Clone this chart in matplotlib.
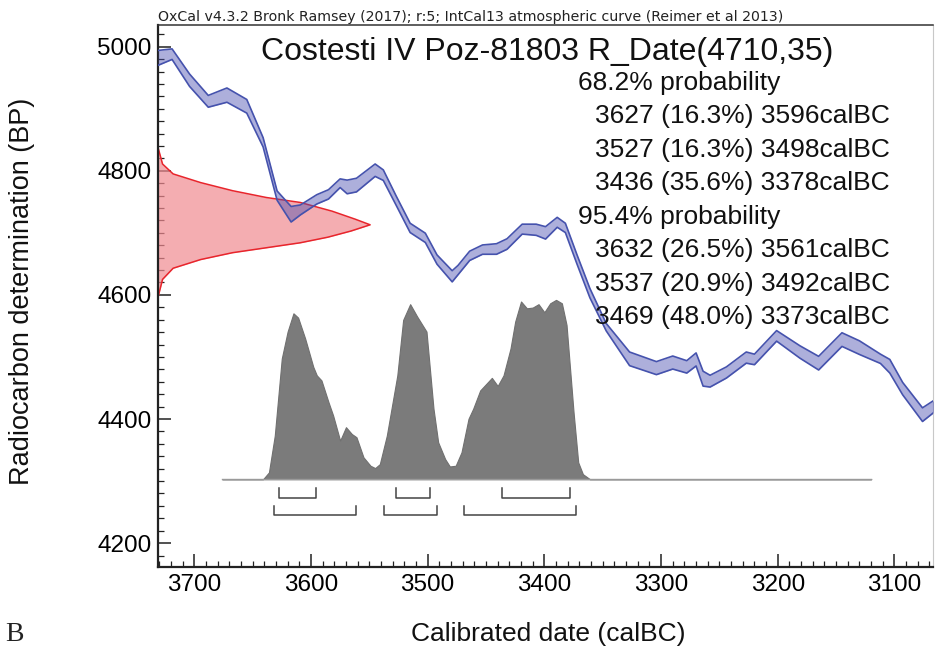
import matplotlib
matplotlib.use("Agg")
import matplotlib.pyplot as plt
from matplotlib.ticker import MultipleLocator

plt.rcParams['font.family'] = ['Liberation Sans', 'DejaVu Sans']

# IntCal13 curve (cal BC, BP, 1 sigma)
curve_cal_bc = [3731, 3719, 3704, 3688, 3672, 3655, 3641, 3629, 3617, 3609,
                3595, 3585, 3575, 3569, 3561, 3545, 3538, 3527, 3515, 3502,
                3492, 3479, 3474, 3464, 3453, 3441, 3432, 3419, 3407, 3399,
                3389, 3382, 3372, 3361, 3347, 3327, 3304, 3290, 3278, 3270,
                3264, 3258, 3244, 3227, 3220, 3201, 3181, 3165, 3145, 3130,
                3112, 3104, 3093, 3076, 3065]
curve_bp = [4982, 4988, 4946, 4912, 4922, 4904, 4846, 4760, 4730, 4737,
            4754, 4762, 4780, 4774, 4777, 4801, 4793, 4752, 4708, 4692,
            4657, 4630, 4640, 4663, 4673, 4674, 4682, 4706, 4705, 4700,
            4717, 4708, 4657, 4603, 4548, 4497, 4482, 4491, 4484, 4496,
            4465, 4461, 4475, 4499, 4496, 4534, 4508, 4490, 4528, 4515,
            4497, 4485, 4449, 4407, 4422]
curve_sigma = [12, 8.5, 10, 9.5, 11.5, 11, 7.5, 7.5, 12.5, 8,
               7.5, 7.5, 7, 11, 11, 10, 8.5, 7.5, 7.5, 7.5,
               7.5, 9, 7.5, 7.5, 7.5, 8.5, 8.5, 8, 9, 10,
               8, 7.5, 7.5, 7.5, 6, 11, 10.5, 10.5, 10, 10.5,
               12, 9.5, 9, 9, 8.5, 8.5, 10, 11, 11, 11,
               7.5, 11, 10, 11, 9.5]

# radiocarbon date R_Date(4710,35), profile
rdate_bp = [4836, 4811, 4795, 4781, 4768, 4757, 4749, 4735, 4722, 4713,
            4703, 4693, 4684, 4676, 4668, 4657, 4643, 4625, 4598]
rdate_density = [0.0, 0.02, 0.07, 0.20, 0.35, 0.51, 0.67, 0.82, 0.93, 1.0,
                 0.91, 0.80, 0.67, 0.51, 0.35, 0.20, 0.07, 0.02, 0.0]

# calibrated probability distribution
post_cal_bc = [3676, 3641, 3636, 3631, 3625, 3620, 3615, 3611, 3605, 3598,
               3595, 3591, 3585, 3581, 3575, 3570, 3565, 3561, 3555, 3549,
               3545, 3541, 3535, 3526, 3521, 3515, 3509, 3501, 3495, 3491,
               3485, 3481, 3476, 3471, 3465, 3461, 3455, 3445, 3440, 3435,
               3429, 3425, 3420, 3415, 3410, 3405, 3400, 3395, 3390, 3385,
               3381, 3375, 3371, 3367, 3361, 3120]
post_density = [0.0, 0.0, 0.038, 0.243, 0.673, 0.823, 0.925, 0.901, 0.785, 0.626,
                0.579, 0.551, 0.430, 0.355, 0.215, 0.290, 0.252, 0.234, 0.122, 0.075,
                0.062, 0.084, 0.243, 0.579, 0.888, 0.976, 0.907, 0.823, 0.393, 0.206,
                0.112, 0.071, 0.075, 0.150, 0.337, 0.393, 0.495, 0.565, 0.520, 0.579,
                0.729, 0.879, 0.991, 0.953, 0.957, 0.976, 0.931, 0.981, 1.0, 0.981,
                0.860, 0.374, 0.094, 0.028, 0.0, 0.0]

ranges_68 = [(3627, 3596), (3527, 3498), (3436, 3378)]
pcts_68 = [16.3, 16.3, 35.6]
ranges_95 = [(3632, 3561), (3537, 3492), (3469, 3373)]
pcts_95 = [26.5, 20.9, 48.0]

W, H = 935, 648
fig = plt.figure(figsize=(W / 100, H / 100), dpi=100)
ax = fig.add_axes([158.3 / W, 80.7 / H, (933 - 158.3) / W, (567.3 - 25) / H])

x_left, x_right = 3730.8, 3067
ax.set_xlim(x_left, x_right)
ax.set_ylim(4161, 5035)

# calibration curve band
lo = [b - s for b, s in zip(curve_bp, curve_sigma)]
hi = [b + s for b, s in zip(curve_bp, curve_sigma)]
ax.fill_between(curve_cal_bc, lo, hi, color='#4a4fb0', alpha=0.45, lw=0, zorder=3)
ax.plot(curve_cal_bc, lo, color='#4552ad', lw=1.2, zorder=4)
ax.plot(curve_cal_bc, hi, color='#4552ad', lw=1.2, zorder=4)

# radiocarbon date on the y axis
rdate_x = [x_left - d * 181.5 for d in rdate_density]
ax.fill_betweenx(rdate_bp, x_left, rdate_x, color='#f08a90', alpha=0.7, lw=0, zorder=2)
ax.plot(rdate_x, rdate_bp, color='#e8252c', lw=1.1, zorder=2.5)

# calibrated distribution
base = 4303
post_y = [base + d * 289 for d in post_density]
ax.fill_between(post_cal_bc, base, post_y, color='#7b7b7b', lw=0.8, edgecolor='#707070', zorder=1)
ax.plot([post_cal_bc[0], post_cal_bc[-1]], [base, base], color='#9a9a9a', lw=1.0, zorder=1)

# range brackets
for rng, y0, y1 in [(ranges_68, 4273, 4288), (ranges_95, 4246, 4260)]:
    for a, b in rng:
        ax.plot([a, a, b, b], [y1, y0, y0, y1], color='#444444', lw=1.1, zorder=1)

# axes styling
ax.xaxis.set_major_locator(MultipleLocator(100))
ax.xaxis.set_minor_locator(MultipleLocator(10))
ax.yaxis.set_major_locator(MultipleLocator(200))
ax.yaxis.set_minor_locator(MultipleLocator(20))
ax.tick_params(which='major', direction='in', length=9.5, width=1.1, color='#222222',
               labelsize=17.5, pad=5, top=False, right=False)
ax.tick_params(which='minor', direction='in', length=4.5, width=0.9, color='#222222',
               top=False, right=False)
for side in ['left', 'bottom']:
    ax.spines[side].set_linewidth(1.6)
    ax.spines[side].set_color('#222222')
ax.spines['top'].set_linewidth(1.1)
ax.spines['top'].set_color('#333333')
ax.spines['right'].set_linewidth(0.8)
ax.spines['right'].set_color('#c8c8c8')


def fx(px):
    return px / W


def fy(py):
    return 1 - py / H


fig.text(fx(158), fy(21.5), 'OxCal v4.3.2 Bronk Ramsey (2017); r:5; IntCal13 atmospheric curve (Reimer et al 2013)',
         fontsize=10.2, family='DejaVu Sans', ha='left', va='baseline', color='#222222')
fig.text(fx(547), fy(60), 'Costesti IV Poz-81803 R_Date(4710,35)', fontsize=23,
         ha='center', va='baseline', color='#111111')

lines = [('68.2% probability', 578)]
lines += [(f'{a} ({p:.1f}%) {b}calBC', 595) for (a, b), p in zip(ranges_68, pcts_68)]
lines += [('95.4% probability', 578)]
lines += [(f'{a} ({p:.1f}%) {b}calBC', 595) for (a, b), p in zip(ranges_95, pcts_95)]
for i, (txt, x0) in enumerate(lines):
    fig.text(fx(x0), fy(90 + i * 33.5), txt, fontsize=19, ha='left', va='baseline',
             color='#111111', zorder=10)

fig.text(fx(22), fy(291), 'Radiocarbon determination (BP)', fontsize=19.5, rotation=90,
         ha='center', va='center', color='#111111')
fig.text(fx(548), fy(634), 'Calibrated date (calBC)', fontsize=19,
         ha='center', va='center', color='#111111')
fig.text(fx(5), fy(641), 'B', fontsize=20, family='Liberation Serif',
         ha='left', va='baseline', color='#222222')

fig.savefig('out.png', dpi=100)
